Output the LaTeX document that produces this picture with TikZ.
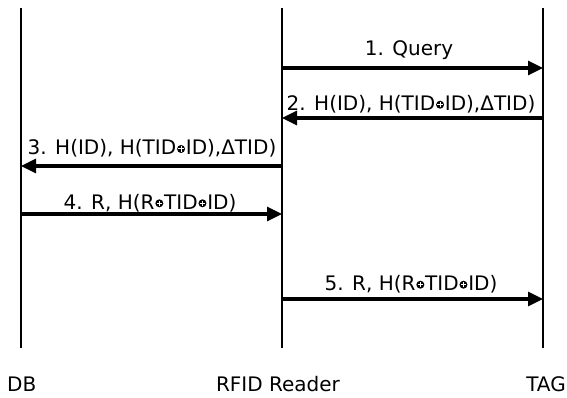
\documentclass[tikz,border=0pt]{standalone}
\usepackage{fontspec}
\setmainfont{DejaVu Sans}
\usetikzlibrary{arrows.meta}
% small filled exclusive-or sign
\newcommand\xorop{\hspace{0.8pt}\tikz[baseline=0pt]{\fill (0pt,6pt) circle (4pt);
  \draw[white,line width=1pt] (-2.6pt,6pt)--(2.6pt,6pt) (0pt,3.4pt)--(0pt,8.6pt);}\hspace{0.8pt}}

\begin{document}
\begin{tikzpicture}[x=1pt,y=-1pt,
  lifeline/.style={line width=1.6pt},
  msg/.style={line width=3.2pt,-{Triangle[length=15pt,width=14pt]}},
  lbl/.style={anchor=base,inner sep=0pt,font=\fontsize{20}{24}\selectfont}]
\useasboundingbox (0,0) rectangle (567,398);

% lifelines
\coordinate (dbT) at (21,8);   \coordinate (dbB) at (21,348);
\coordinate (rdT) at (282,8);  \coordinate (rdB) at (282,348);
\coordinate (tgT) at (543,8);  \coordinate (tgB) at (543,348);
\draw[lifeline] (dbT) -- (dbB);
\draw[lifeline] (rdT) -- (rdB);
\draw[lifeline] (tgT) -- (tgB);

% participants
\node[lbl,anchor=base west] (db) at (7,391.5) {DB};
\node[lbl] (rd) at (278,391.5) {RFID Reader};
\node[lbl,anchor=base east] (tg) at (566,391.5) {TAG};

% message end points
\coordinate (r1) at (282,68);  \coordinate (t1) at (543,68);
\coordinate (t2) at (543,118); \coordinate (r2) at (282,118);
\coordinate (r3) at (282,166); \coordinate (d3) at (21,166);
\coordinate (d4) at (21,214);  \coordinate (r4) at (282,214);
\coordinate (r5) at (282,299); \coordinate (t5) at (543,299);

% messages
\draw[msg] (r1) -- (t1);
\node[lbl] (m1) at (409,55.7) {1. Query};
\draw[msg] (t2) -- (r2);
\node[lbl] (m2) at (411,110.7) {2. H(ID), H(TID\xorop ID),ΔTID)};
\draw[msg] (r3) -- (d3);
\node[lbl] (m3) at (152,155) {3. H(ID), H(TID\xorop ID),ΔTID)};
\draw[msg] (d4) -- (r4);
\node[lbl] (m4) at (150,209.3) {4. R, H(R\xorop TID\xorop ID)};
\draw[msg] (r5) -- (t5);
\node[lbl] (m5) at (411,290.7) {5. R, H(R\xorop TID\xorop ID)};
\end{tikzpicture}
\end{document}
